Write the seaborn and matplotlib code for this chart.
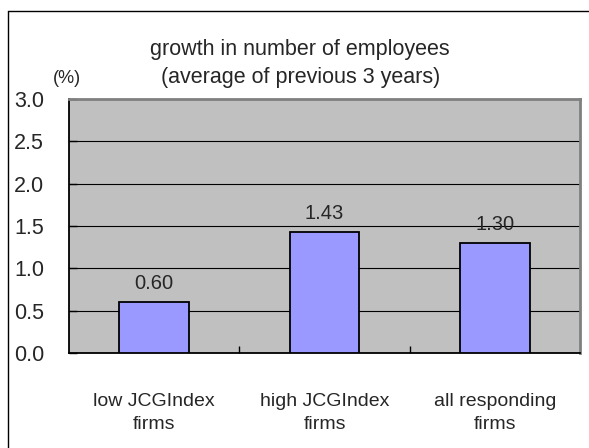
import matplotlib
matplotlib.use("Agg")
import matplotlib.pyplot as plt
from matplotlib.lines import Line2D
import pandas as pd
import seaborn as sns

# Chart data
categories = ["low JCGIndex\nfirms", "high JCGIndex\nfirms", "all responding\nfirms"]
growth = [0.60, 1.43, 1.30]
y_ticks = [0.0, 0.5, 1.0, 1.5, 2.0, 2.5, 3.0]
title_lines = ["growth in number of employees", "(average of previous 3 years)"]
unit_label = "(%)"

sns.set_style("white")
plt.rcParams["font.family"] = ["Liberation Sans", "DejaVu Sans"]

W, H = 589, 448
fig = plt.figure(figsize=(W / 100, H / 100), dpi=100)
ax = fig.add_axes([69 / W, 1 - 353 / H, (580 - 69) / W, (353 - 99) / H])
ax.set_facecolor("#C0C0C0")

df = pd.DataFrame({"group": categories, "growth": growth})
sns.barplot(data=df, x="group", y="growth", color="#9999FF", saturation=1,
            width=0.41, edgecolor="black", linewidth=1.3, ax=ax, zorder=3)

ax.set_xlim(-0.5, len(categories) - 0.5)
ax.set_ylim(y_ticks[0], y_ticks[-1])
ax.set_xlabel("")
ax.set_ylabel("")

# Horizontal gridlines
ax.set_axisbelow(True)
ax.set_yticks(y_ticks)
ax.set_yticklabels([f"{t:.1f}" for t in y_ticks])
ax.yaxis.grid(True, color="black", linewidth=0.8)
ax.xaxis.grid(False)
ax.tick_params(axis="y", direction="in", length=6, width=1, color="black",
               pad=18, labelsize=15.5, left=True)

# Category labels centred under bars, ticks at category boundaries
ax.set_xticks([i + 0.5 for i in range(len(categories) - 1)])
ax.set_xticklabels([])
ax.set_xticks(range(len(categories)), minor=True)
ax.set_xticklabels(categories, minor=True)
ax.tick_params(axis="x", which="major", direction="in", length=5, width=1,
               color="black", bottom=True)
ax.tick_params(axis="x", which="minor", length=0, pad=29, labelsize=14)
for t in ax.get_xticklabels(minor=True):
    t.set_linespacing(1.45)

for side in ("left", "bottom"):
    ax.spines[side].set_color("black")
    ax.spines[side].set_linewidth(1.3)
for side in ("top", "right"):
    ax.spines[side].set_color("#808080")
    ax.spines[side].set_linewidth(2)

# Value labels above bars
for p in ax.patches:
    v = p.get_height()
    ax.annotate(f"{v:.2f}", (p.get_x() + p.get_width() / 2, v),
                xytext=(0, 9.4), textcoords="offset points",
                ha="center", va="baseline", fontsize=14.5, zorder=4)

# Titles
fig.text(300 / W, 1 - 55 / H, title_lines[0], ha="center", va="baseline", fontsize=15.5)
fig.text(301 / W, 1 - 83 / H, title_lines[1], ha="center", va="baseline", fontsize=15.5)
fig.text(67 / W, 1 - 83 / H, unit_label, ha="center", va="baseline", fontsize=13)

# Chart frame
fig.add_artist(Line2D([8 / W, 8 / W], [0, 1 - 11 / H], color="black", lw=1,
                      transform=fig.transFigure))
fig.add_artist(Line2D([8 / W, 1], [1 - 11 / H, 1 - 11 / H], color="black", lw=1,
                      transform=fig.transFigure))

fig.savefig("out.png", dpi=100)
